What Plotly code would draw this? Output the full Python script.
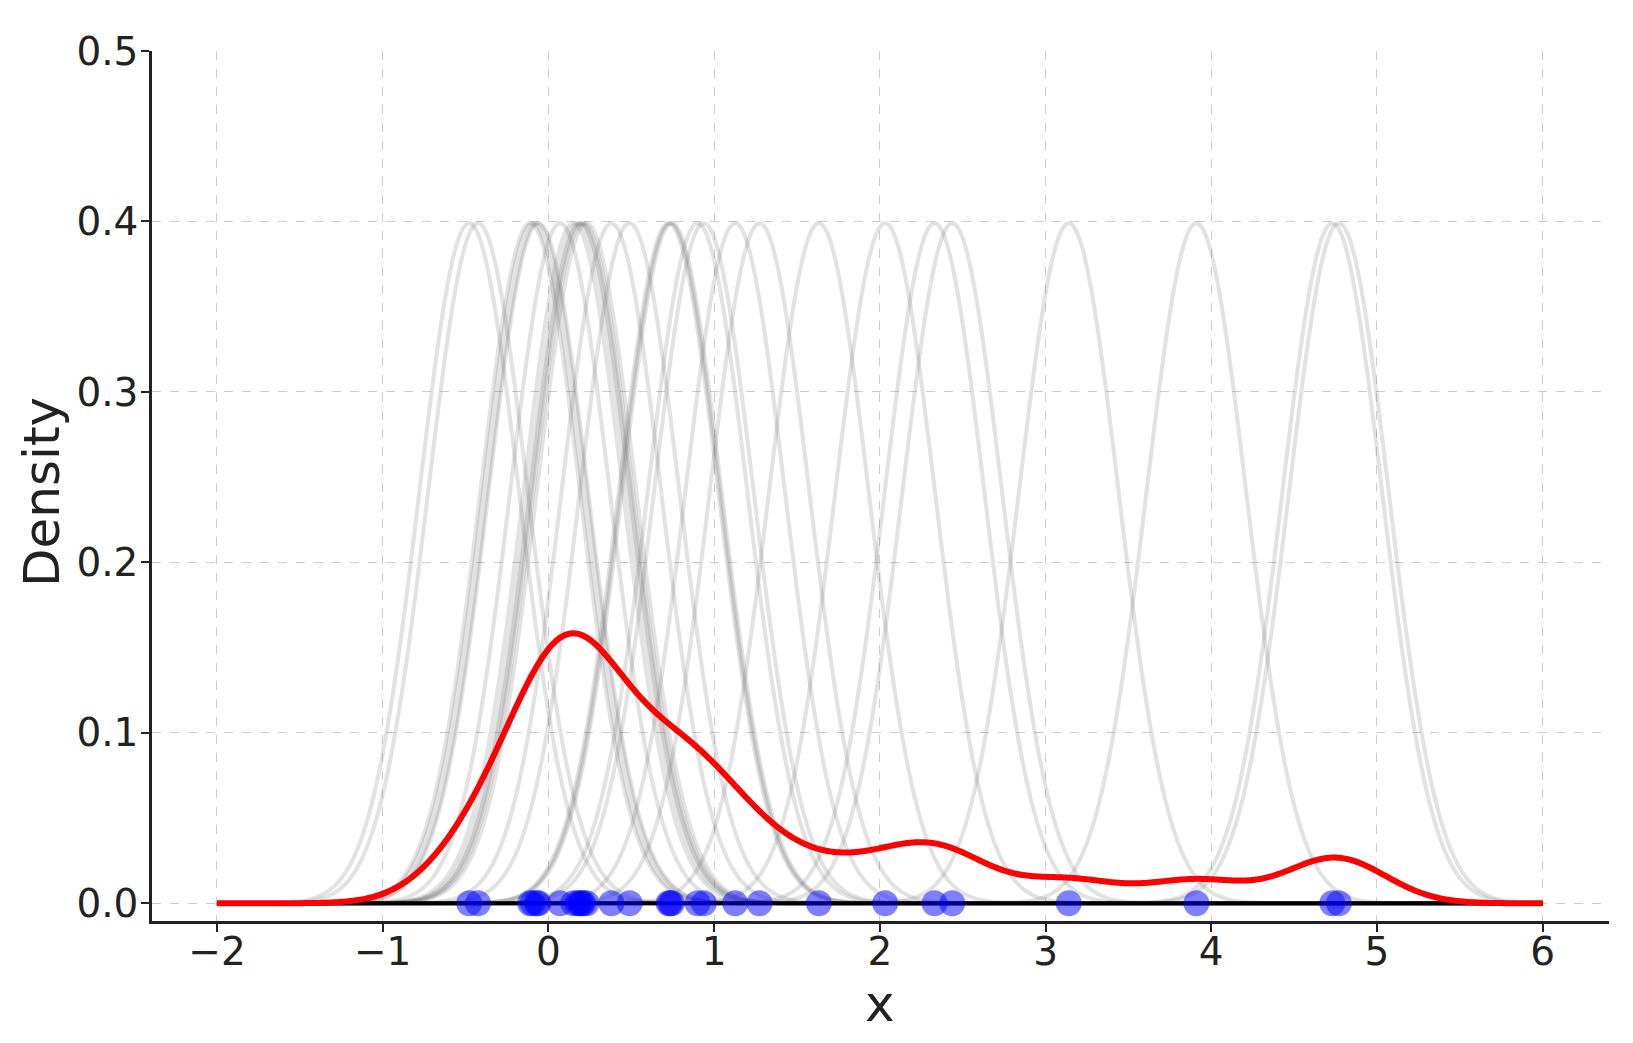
import numpy as np
import plotly.graph_objects as go

samples = [-0.478, -0.425, -0.11, -0.094, -0.07, -0.06, 0.07, 0.15, 0.175, 0.19,
           0.20, 0.21, 0.23, 0.38, 0.49, 0.725, 0.735, 0.745, 0.90, 0.938,
           1.127, 1.274, 1.632, 2.032, 2.33, 2.437, 3.14, 3.91, 4.73, 4.77]
bandwidth = 0.3
x_min, x_max = -2, 6
x_ticks = [-2, -1, 0, 1, 2, 3, 4, 5, 6]
x_labels = ['\u22122', '\u22121', '0', '1', '2', '3', '4', '5', '6']
y_ticks = [0.0, 0.1, 0.2, 0.3, 0.4, 0.5]
y_labels = ['0.0', '0.1', '0.2', '0.3', '0.4', '0.5']

xs = np.linspace(x_min, x_max, 1000)


def kernel(x, xi, h):
  # standard normal shape, peak 1/sqrt(2 pi)
  return np.exp(-0.5 * ((x - xi) / h) ** 2) / np.sqrt(2 * np.pi)


kernels = [kernel(xs, xi, bandwidth) for xi in samples]
kde = np.sum(kernels, axis=0) / len(samples)

fig = go.Figure()
for k in kernels:
  fig.add_trace(go.Scatter(x=xs, y=k, mode='lines', showlegend=False,
                           line=dict(color='rgba(110,110,110,0.2)', width=4, simplify=False),
                           hoverinfo='skip'))
fig.add_trace(go.Scatter(x=xs, y=np.zeros(len(xs)), mode='lines', showlegend=False,
                         line=dict(color='black', width=4)))
fig.add_trace(go.Scatter(x=xs, y=kde, mode='lines', showlegend=False,
                         line=dict(color='red', width=6, simplify=False)))
fig.add_trace(go.Scatter(x=samples, y=np.zeros(len(samples)), mode='markers',
                         showlegend=False,
                         marker=dict(color='rgba(0,0,255,0.5)', size=26,
                                     line=dict(width=0))))

# page body adds 8px, so margins are trimmed by that
fig.update_layout(width=1633, height=1043, autosize=False,
                  plot_bgcolor='white', paper_bgcolor='white',
                  margin=dict(l=144, r=32, t=43, b=130),
                  font=dict(family='DejaVu Sans', color='#222222', size=39))
fig.update_xaxes(range=[-2.392, 6.40], tickvals=x_ticks, ticktext=x_labels,
                 automargin=False, ticklabelstandoff=-14,
                 showline=True, linecolor='#222222', linewidth=2.5,
                 ticks='outside', ticklen=8, tickwidth=2, tickcolor='#222222',
                 showgrid=True, gridcolor='#cccccc', gridwidth=1.3, griddash='dash',
                 zeroline=False, tickfont=dict(size=39))
fig.update_yaxes(range=[-0.0104, 0.5], tickvals=y_ticks, ticktext=y_labels,
                 automargin=False, ticklabelstandoff=-5,
                 showline=True, linecolor='#222222', linewidth=2.5,
                 ticks='outside', ticklen=8, tickwidth=2, tickcolor='#222222',
                 showgrid=True, gridcolor='#cccccc', gridwidth=1.3, griddash='dash',
                 zeroline=False, tickfont=dict(size=39))

# axis titles placed as annotations relative to the plot area
fig.add_annotation(text='x', xref='paper', yref='paper', x=(880 - 152) / 1457,
                   y=-(1004 - 921) / 870, showarrow=False,
                   font=dict(size=50), xanchor='center', yanchor='middle')
fig.add_annotation(text='Density', xref='paper', yref='paper', x=-(152 - 42) / 1457,
                   y=(921 - 492) / 870, showarrow=False, textangle=-90,
                   font=dict(size=50), xanchor='center', yanchor='middle')

fig.write_html("out.html")
